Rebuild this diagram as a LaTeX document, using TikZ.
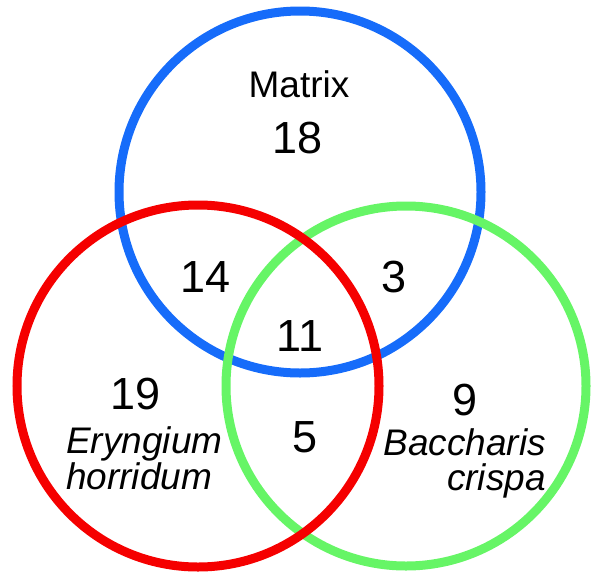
\documentclass[tikz,border=0pt]{standalone}
\usepackage{fontspec}
\setmainfont{Liberation Sans}
\definecolor{vblue}{RGB}{22,108,250}
\definecolor{vred}{RGB}{245,0,0}
\definecolor{vgreen}{RGB}{102,245,102}
\begin{document}
\begin{tikzpicture}[x=1pt,y=-1pt,
  ring/.style={line width=9pt},
  num/.style={anchor=base,inner sep=0pt,font=\fontsize{45}{54}\selectfont},
  lab/.style={inner sep=0pt,font=\fontsize{37}{37}\selectfont},
  spec/.style={lab,font=\fontsize{37}{37}\selectfont\itshape}]
\useasboundingbox (0,0) rectangle (591,573);
\draw[ring,vblue] (300,192) circle[radius=181];
\draw[ring,vgreen] (406,386) circle[radius=180];
\draw[ring,vred] (198,386) circle[radius=181];
\node[lab,anchor=base] (matrix) at (299,97) {Matrix};
\node[num] (n18) at (298,153) {18};
\node[num] (n14) at (206,292) {14};
\node[num] (n3) at (394,292) {3};
\node[num] (n11) at (300,351) {11};
\node[num] (n19) at (136,409) {19};
\node[num] (n5) at (305,452) {5};
\node[num] (n9) at (465,415) {9};
\node[spec,anchor=base west,text depth=0pt] (ery) at (66,453) {Eryngium};
\node[spec,anchor=base west] (hor) at (66,489) {horridum};
\node[spec,anchor=base east,text depth=0pt] (bac) at (546,455) {Baccharis};
\node[spec,anchor=base east] (cri) at (546,490) {crispa};
\end{tikzpicture}
\end{document}
